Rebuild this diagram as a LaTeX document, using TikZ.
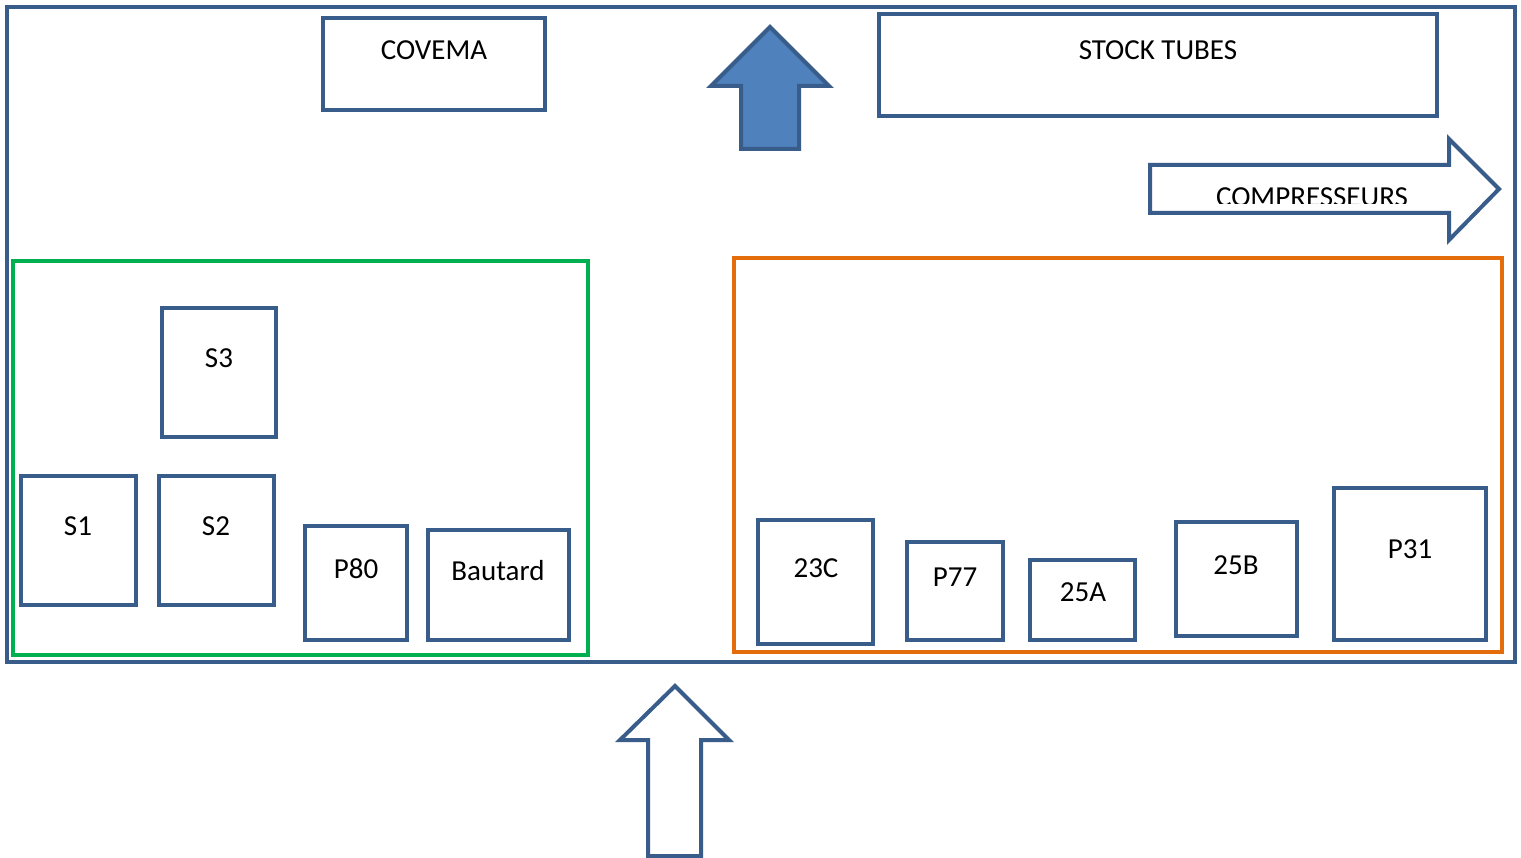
\documentclass[tikz,border=0pt]{standalone}
\usepackage{fontspec}
\setmainfont{Carlito}
\definecolor{bline}{RGB}{56,93,138}
\definecolor{bfill}{RGB}{79,129,189}
\definecolor{gline}{RGB}{0,176,80}
\definecolor{oline}{RGB}{228,108,10}
\begin{document}
\begin{tikzpicture}[x=1pt,y=-1pt,
  box/.style={draw=bline,line width=4pt,rectangle,inner sep=0pt,outer sep=0pt},
  zone/.style={draw=#1,line width=4pt,rectangle,inner sep=0pt,outer sep=0pt},
  lbl/.style={anchor=base,inner sep=0pt,font=\fontsize{29}{34}\selectfont},
  arr/.style={draw=bline,line width=4pt,line join=miter}]
\fill[white] (0,0) rectangle (1521,858);
\useasboundingbox (0,0) rectangle (1521,858);
% outer frame
\node[box,minimum width=1508pt,minimum height=655pt] (hall) at (761,334.5) {};
% top boxes
\node[box,minimum width=222pt,minimum height=92pt] (covema) at (434,64) {};
\node[lbl] (covemat) at (434,59.5) {COVEMA};
\node[box,minimum width=558pt,minimum height=102pt] (stock) at (1158,65) {};
\node[lbl] (stockt) at (1158,59.5) {STOCK TUBES};
% zones
\node[zone=gline,minimum width=575pt,minimum height=394pt] (green) at (300.5,458) {};
\node[zone=oline,minimum width=768pt,minimum height=394pt] (orange) at (1118,455) {};
% machines left
\node[box,minimum width=114pt,minimum height=129pt] (s3) at (219,372.5) {};
\node[lbl] (s3t) at (219,367.5) {S3};
\node[box,minimum width=115pt,minimum height=129pt] (s1) at (78.5,540.5) {};
\node[lbl] (s1t) at (78,535.5) {S1};
\node[box,minimum width=115pt,minimum height=129pt] (s2) at (216.5,540.5) {};
\node[lbl] (s2t) at (216,535.5) {S2};
\node[box,minimum width=102pt,minimum height=114pt] (p80) at (356,583) {};
\node[lbl] (p80t) at (356,578.5) {P80};
\node[box,minimum width=141pt,minimum height=110pt] (bautard) at (498.5,585) {};
\node[lbl] (bautardt) at (498,580.5) {Bautard};
% machines right
\node[box,minimum width=115pt,minimum height=124pt] (m23c) at (815.5,582) {};
\node[lbl] (m23ct) at (816,577.5) {23C};
\node[box,minimum width=96pt,minimum height=98pt] (p77) at (955,591) {};
\node[lbl] (p77t) at (955,586.5) {P77};
\node[box,minimum width=105pt,minimum height=80pt] (m25a) at (1082.5,600) {};
\node[lbl] (m25at) at (1083,601.5) {25A};
\node[box,minimum width=121pt,minimum height=114pt] (m25b) at (1236.5,579) {};
\node[lbl] (m25bt) at (1236,574.5) {25B};
\node[box,minimum width=152pt,minimum height=152pt] (p31) at (1410,564) {};
\node[lbl] (p31t) at (1410,558.5) {P31};
% blue filled arrow (exit up)
\draw[arr,fill=bfill] (770,27) -- (829,86) -- (799,86) -- (799,149) -- (741,149) -- (741,86) -- (711,86) -- cycle;
% entry arrow (bottom)
\draw[arr,fill=white] (675,686) -- (729,740) -- (701,740) -- (701,856) -- (648,856) -- (648,740) -- (620,740) -- cycle;
% compresseurs arrow
\draw[arr,fill=white] (1150,165) -- (1449,165) -- (1449,139) -- (1499,189) -- (1449,240) -- (1449,213) -- (1150,213) -- cycle;
\begin{scope}
\clip (1152,167) rectangle (1447,203.5);
\node[lbl] (compt) at (1312,207) {COMPRESSEURS};
\end{scope}
\end{tikzpicture}
\end{document}
